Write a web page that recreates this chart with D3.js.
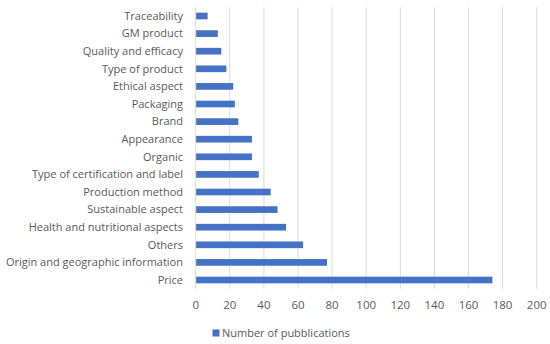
<!DOCTYPE html>
<html>
<head>
    <meta charset="utf-8">
    <script src="https://d3js.org/d3.v7.min.js"></script>
    <style>
        body { margin: 0; background: #fff; }
        text { font-family: "Open Sans", sans-serif; fill: #595959; }
    </style>
</head>
<body>
    <svg width="550" height="344"></svg>
    <script>
        // categories top to bottom
        const categories = [
            "Traceability", "GM product", "Quality and efficacy", "Type of product",
            "Ethical aspect", "Packaging", "Brand", "Appearance", "Organic",
            "Type of certification and label", "Production method", "Sustainable aspect",
            "Health and nutritional aspects", "Others", "Origin and geographic information", "Price"
        ];
        const publications = [7, 13, 15, 18, 22, 23, 25, 33, 33, 37, 44, 48, 53, 63, 77, 174];
        const xTicks = [0, 20, 40, 60, 80, 100, 120, 140, 160, 180, 200];
        const seriesName = "Number of pubblications";

        const svg = d3.select("svg");
        const plotLeft = 195.7, plotRight = 536.7, plotTop = 7.2, plotBottom = 288.8;

        const x = d3.scaleLinear().domain([0, 200]).range([plotLeft, plotRight]);
        const y = d3.scaleBand().domain(categories).range([plotTop, plotBottom]).paddingInner(0.62).paddingOuter(0.31);

        // gridlines
        svg.append("g")
            .selectAll("line")
            .data(xTicks.slice(1))
            .join("line")
            .attr("x1", d => x(d)).attr("x2", d => x(d))
            .attr("y1", plotTop).attr("y2", plotBottom)
            .attr("stroke", "#d9d9d9")
            .attr("stroke-width", 1);

        // bars
        svg.append("g")
            .selectAll("rect")
            .data(publications)
            .join("rect")
            .attr("x", x(0))
            .attr("y", (d, i) => y(categories[i]))
            .attr("width", d => x(d) - x(0))
            .attr("height", y.bandwidth())
            .attr("fill", "#4472c4");

        // left axis line
        svg.append("line")
            .attr("x1", x(0)).attr("x2", x(0))
            .attr("y1", plotTop).attr("y2", plotBottom)
            .attr("stroke", "#d9d9d9");

        // category labels
        svg.append("g")
            .selectAll("text")
            .data(categories)
            .join("text")
            .attr("x", 183)
            .attr("y", d => y(d) + y.bandwidth() / 2)
            .attr("dy", "0.35em")
            .attr("text-anchor", "end")
            .attr("font-size", 11)
            .text(d => d);

        // x tick labels
        svg.append("g")
            .selectAll("text")
            .data(xTicks)
            .join("text")
            .attr("x", d => x(d))
            .attr("y", 305)
            .attr("dy", "0.35em")
            .attr("text-anchor", "middle")
            .attr("font-size", 11.5)
            .text(d => d);

        // legend
        svg.append("rect")
            .attr("x", 212.5).attr("y", 329.5)
            .attr("width", 7).attr("height", 7)
            .attr("fill", "#4472c4");
        svg.append("text")
            .attr("x", 222)
            .attr("y", 333)
            .attr("dy", "0.35em")
            .attr("font-size", 11)
            .text(seriesName);
    </script>
</body>
</html>
